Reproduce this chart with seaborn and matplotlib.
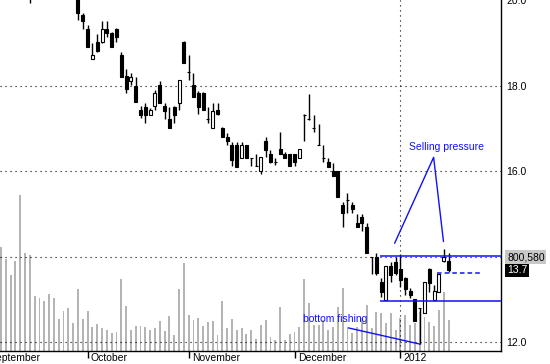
# plot.py - candlestick chart with volume, Sep 2011 - Jan 2012

import numpy as np
import pandas as pd
import matplotlib
matplotlib.use('Agg')
import matplotlib.pyplot as plt
import matplotlib.transforms as mtransforms
import seaborn as sns

# ------------------------------------------------------
# DATA
# ------------------------------------------------------

# first 16 sessions sit above the visible price range
opens = [21.6, 21.4, 21.1, 21.3, 21.0, 20.5, 20.7, 20.3, 20.6, 20.9,
         20.8, 20.6, 20.9, 21.1, 20.9, 20.6, 20.40, 19.65, 19.31, 18.61,
         19.01, 19.01, 19.31, 19.22, 19.31, 18.71, 18.22, 18.11, 17.99, 17.43,
         17.50, 17.31, 17.52, 18.01, 17.52, 17.21, 17.50, 17.60, 19.02, 18.31,
         18.01, 17.82, 17.82, 17.21, 17.00, 17.43, 17.00, 16.80, 16.61, 16.61,
         16.30, 16.61, 16.30, 16.12, 15.99, 16.70, 16.40, 16.22, 16.51, 16.40,
         16.40, 16.40, 16.30, 17.31, 17.21, 17.01, 16.61, 16.30, 16.22, 16.01,
         16.01, 15.20, 15.32, 15.20, 14.79, 14.92, 14.70, 13.99, 13.99, 13.41,
         12.98, 13.78, 13.88, 13.70, 13.49, 13.20, 13.00, 12.79, 12.69, 13.70,
         12.98, 13.18, 13.90, 13.90]
highs = [21.9, 21.8, 21.5, 21.6, 21.2, 20.9, 20.9, 20.8, 21.0, 21.2,
         21.1, 21.0, 21.3, 21.4, 21.1, 20.9, 20.60, 19.70, 19.42, 19.00,
         19.20, 19.51, 19.51, 19.24, 19.34, 18.79, 18.39, 18.30, 18.19, 17.52,
         17.58, 17.47, 17.89, 18.11, 17.60, 17.49, 17.52, 18.13, 19.03, 18.71,
         18.29, 17.86, 17.84, 17.50, 17.60, 17.60, 17.02, 16.88, 16.69, 16.69,
         16.69, 16.61, 16.30, 16.39, 16.33, 16.79, 16.49, 16.30, 16.92, 16.44,
         16.40, 16.40, 16.51, 17.33, 17.80, 17.31, 17.10, 16.61, 16.30, 16.18,
         16.01, 15.28, 15.48, 15.28, 14.99, 14.99, 14.78, 13.99, 14.08, 13.49,
         13.78, 13.88, 14.00, 14.07, 13.53, 13.26, 13.00, 12.79, 13.40, 13.72,
         13.33, 13.59, 14.17, 14.09]
lows = [21.2, 21.0, 20.8, 20.9, 20.3, 20.2, 19.93, 20.2, 20.4, 20.6,
        20.5, 20.4, 20.7, 20.8, 20.5, 20.2, 19.53, 19.31, 18.89, 18.61,
        18.79, 19.00, 19.13, 18.89, 19.02, 18.21, 17.82, 18.01, 17.61, 17.23,
        17.13, 17.31, 17.43, 17.60, 17.21, 17.00, 17.12, 17.43, 18.52, 18.13,
        17.72, 17.33, 17.43, 17.13, 17.00, 17.31, 16.79, 16.61, 16.12, 16.10,
        16.30, 16.30, 16.12, 16.12, 15.93, 16.33, 16.18, 16.14, 16.40, 16.30,
        16.12, 16.12, 16.30, 16.71, 17.19, 16.92, 16.61, 16.22, 16.10, 15.89,
        15.40, 14.70, 15.01, 15.01, 14.70, 14.60, 14.09, 13.60, 13.57, 13.06,
        12.98, 13.41, 13.57, 13.29, 13.10, 13.02, 12.49, 11.95, 12.69, 13.18,
        12.98, 13.18, 13.88, 13.64]
closes = [21.4, 21.1, 21.3, 21.0, 20.5, 20.7, 20.3, 20.6, 20.9, 20.8,
          20.6, 20.9, 21.1, 20.9, 20.6, 20.4, 19.70, 19.52, 18.91, 18.71,
          18.81, 19.31, 19.22, 18.91, 19.13, 18.21, 17.91, 18.21, 17.61, 17.31,
          17.31, 17.43, 17.82, 17.60, 17.41, 17.00, 17.31, 18.13, 18.52, 18.31,
          17.72, 17.50, 17.43, 17.21, 17.41, 17.33, 16.79, 16.71, 16.26, 16.10,
          16.61, 16.30, 16.30, 16.12, 16.33, 16.49, 16.22, 16.22, 16.40, 16.30,
          16.12, 16.22, 16.51, 17.31, 17.21, 17.01, 16.61, 16.30, 16.10, 15.89,
          15.40, 15.01, 15.32, 15.10, 14.70, 14.79, 14.09, 13.99, 13.62, 13.18,
          13.78, 13.57, 13.62, 13.45, 13.25, 13.10, 12.49, 12.79, 13.40, 13.37,
          13.19, 13.59, 13.99, 13.68]
# volume in thousands of shares
volume_k = [888, 784, 647, 767, 1331, 835, 818, 468, 454, 426,
            485, 451, 273, 341, 366, 241, 531, 273, 341, 207,
            230, 198, 176, 151, 162, 613, 383, 176, 210, 210,
            204, 176, 198, 258, 170, 296, 134, 525, 752, 307,
            261, 284, 215, 247, 253, 136, 428, 198, 273, 176,
            198, 142, 176, 100, 219, 264, 122, 94, 377, 94,
            147, 164, 207, 613, 411, 221, 221, 264, 179, 207,
            372, 534, 207, 153, 207, 281, 392, 196, 332, 324,
            238, 324, 179, 281, 307, 221, 238, 332, 290, 247,
            213, 349, 502, 264]

last_volume = 800580
month_labels = ['September', 'October', 'November', 'December', '2012']
month_start = [-3, 18, 39, 61, 83]          # session index of first bar
price_ticks = [12, 14, 16, 18, 20]
price_ticklabels = ['12.0', '', '16.0', '18.0', '20.0']

# annotation anchor points (session index, price)
sell_text = (92.5, 16.56)
sell_x = [81.8, 89.9, 91.95]
sell_y = [14.31, 16.32, 14.35]
fish_text = (69.4, 12.55)
fish_x = [72.2, 87.1]
fish_y = [12.33, 11.95]
resist_level = 14.02
support_level = 12.97
box_start = 78.8
last_level = 13.61
last_span = (90.6, 99.6)

# ------------------------------------------------------
# PLOT
# ------------------------------------------------------

sns.set_theme(style='white')
plt.rcParams['font.family'] = ['Liberation Sans', 'DejaVu Sans']

n = len(closes)
df = pd.DataFrame({'idx': np.arange(n), 'open': opens, 'high': highs,
                   'low': lows, 'close': closes,
                   'volume': np.array(volume_k) * 1000})

fig = plt.figure(figsize=(5.5, 3.64), dpi=100)
ax_vol = fig.add_axes([0, 13 / 364, 501 / 550, 351 / 364])

# volume bars in the background
sns.barplot(data=df, x='idx', y='volume', native_scale=True, width=0.4,
            color='#b4b4b4', saturation=1, errorbar=None, ax=ax_vol)
for p in ax_vol.patches:
    p.set_linewidth(0)
    p.set_antialiased(False)
ax_vol.set_ylim(0, 2_990_000)
ax_vol.set_xlim(-0.2, 103.9)
ax_vol.set_xlabel('')
ax_vol.set_ylabel('')
ax_vol.set_yticks([])

# price axis on top
ax = ax_vol.twinx()
ax.set_ylim(11.79, 20.0)

# grid
dots = (0, (1, 3.5))
for lvl in price_ticks[:-1]:
    ax.axhline(lvl, color='black', lw=0.8, ls=dots, zorder=1)
ax.axvline(month_start[-1] - 0.05, color='black', lw=0.8, ls=dots, zorder=1)

# candles
up = df['close'] >= df['open']
ax.vlines(df['idx'], df['low'], df['high'], color='black', lw=1, zorder=3)
body_low = np.minimum(df['open'], df['close'])
body_h = (df['close'] - df['open']).abs()
ax.bar(df['idx'], body_h, bottom=body_low, width=0.62,
       color=np.where(up, 'white', 'black'), edgecolor='black',
       linewidth=0.8, zorder=4)

# blue annotations
blue = '#1010ff'
ax.hlines([resist_level, support_level], box_start, 103.9, color=blue, lw=1.1, zorder=5)
ax.hlines(last_level, last_span[0], last_span[1], color=blue, lw=1.1, ls=(0, (3, 2)), zorder=5)
ax.plot(sell_x, sell_y, color=blue, lw=1, zorder=5)
ax.plot(fish_x, fish_y, color=blue, lw=1, zorder=5)
ax.text(*sell_text, 'Selling pressure', color=blue, fontsize=7.5,
        ha='center', va='center', zorder=6)
ax.text(*fish_text, 'bottom fishing', color=blue, fontsize=7.5,
        ha='center', va='center', zorder=6)

# axes styling
for side in ['top', 'left', 'right']:
    ax_vol.spines[side].set_visible(False)
ax_vol.spines['bottom'].set_color('black')
ax_vol.spines['bottom'].set_linewidth(1)
for side in ['top', 'left', 'bottom']:
    ax.spines[side].set_visible(False)
ax.spines['right'].set_color('black')
ax.spines['right'].set_linewidth(1)

ax.set_yticks(price_ticks)
ax.set_yticklabels(price_ticklabels)
ax.tick_params(axis='y', length=0, pad=4, labelsize=7.5, colors='black')
ax.grid(False)
ax_vol.grid(False)

ax_vol.set_xticks(month_start[1:])
ax_vol.tick_params(axis='x', bottom=True, length=5, width=1, color='black',
                   direction='out', labelbottom=False)
trans = mtransforms.blended_transform_factory(ax_vol.transData, ax_vol.transAxes)
for pos, lab in zip(month_start, month_labels):
    ax_vol.text(pos + 0.7, -0.006, lab, transform=trans, ha='left', va='top',
                fontsize=7.5, color='black', clip_on=False)

# last values on the right
vtrans = mtransforms.blended_transform_factory(ax_vol.transAxes, ax_vol.transData)
ax.text(1.012, last_volume * 1.0, f'{last_volume:,}', transform=vtrans,
        ha='left', va='center', fontsize=7.5, color='black', clip_on=False,
        bbox=dict(boxstyle='square,pad=0.15', fc='#c8c8c8', ec='none'), zorder=7)
ptrans = mtransforms.blended_transform_factory(ax.transAxes, ax.transData)
ax.text(1.012, closes[-1], f'{closes[-1]:.1f}', transform=ptrans,
        ha='left', va='center', fontsize=7.5, color='white', clip_on=False,
        bbox=dict(boxstyle='square,pad=0.15', fc='black', ec='none'), zorder=7)

fig.savefig('out.png', dpi=100)
